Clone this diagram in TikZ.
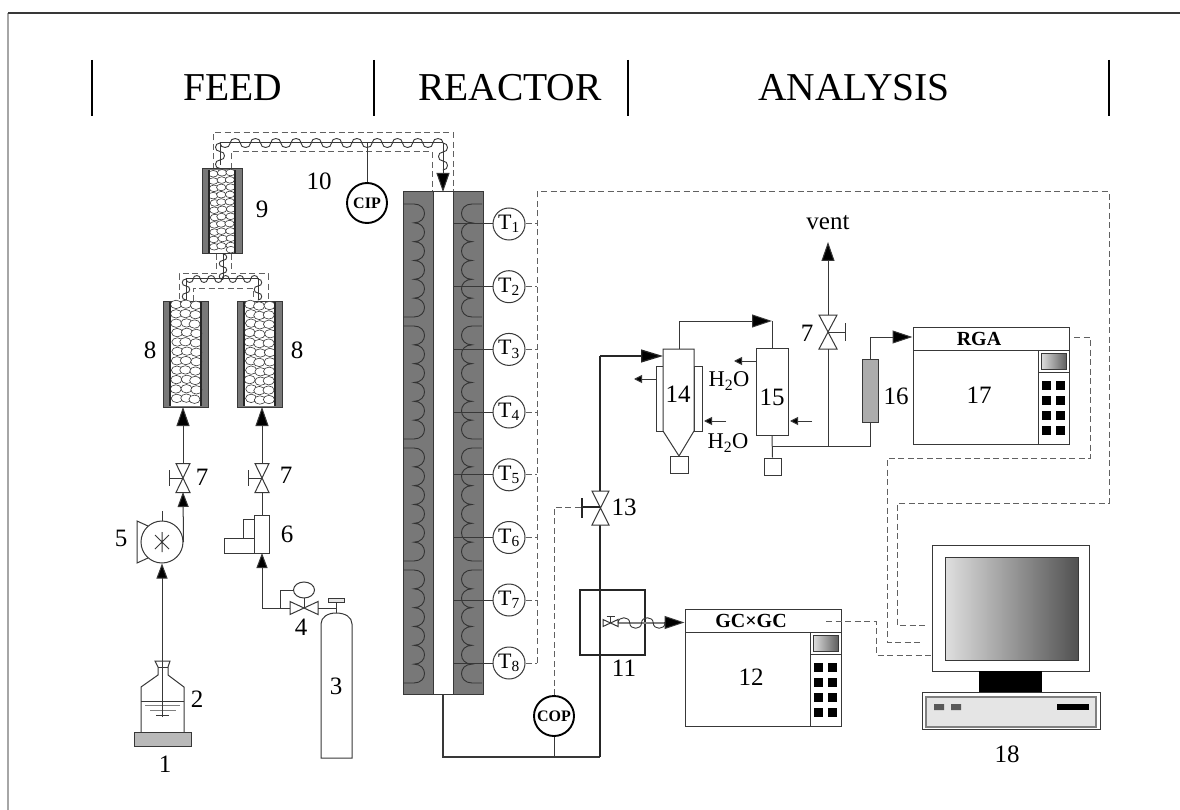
\documentclass[tikz,border=0pt]{standalone}
\usepackage{fontspec}
\setmainfont{Liberation Serif}
\usetikzlibrary{arrows.meta,calc}
\definecolor{ln}{gray}{0.22}
\definecolor{heat}{gray}{0.47}
\definecolor{dsh}{gray}{0.38}
\tikzset{
  pipe/.style={draw=ln,line width=1pt},
  hvy/.style={draw=black!85,line width=1.25pt},
  dsh/.style={draw=dsh,line width=1pt,dash pattern=on 6pt off 3.5pt},
  bigarrow/.style={pipe,-{Triangle[length=19pt,width=13pt,fill=black]}},
  midarrow/.style={pipe,-{Triangle[length=15pt,width=11pt,fill=black]}},
  tinyarrow/.style={pipe,-{Triangle[length=8pt,width=8pt,fill=black]}},
  lab/.style={font=\fontsize{25}{28}\selectfont,inner sep=0pt},
  title/.style={font=\fontsize{39.5}{44}\selectfont,inner sep=0pt},
  boxn/.style={pipe,rectangle,inner sep=0pt},
  tcirc/.style={draw=ln,line width=1pt,circle,fill=white,minimum size=32pt,inner sep=0pt,font=\fontsize{22}{24}\selectfont},
  pcirc/.style={draw=black,line width=1.9pt,circle,fill=white,minimum size=40pt,inner sep=0pt,font=\fontsize{16}{18}\selectfont\bfseries},
  pellet/.style={draw=ln,line width=.6pt,fill=white},
  wv/.style={draw=ln,line width=.9pt,line cap=round},
}
% sinuous tube: start x,y; half-wave step sx,sy; control offset nx,ny; number of half waves
\newcommand{\wavy}[7]{\foreach \i in {1,...,#7}{
  \pgfmathsetmacro{\sg}{ifthenelse(mod(\i,2)==0,-1,1)}
  \pgfmathsetmacro{\ax}{#1+(\i-1)*(#3)}
  \pgfmathsetmacro{\ay}{#2+(\i-1)*(#4)}
  \draw[wv] (\ax,\ay) .. controls ({\ax+\sg*(#5)},{\ay+\sg*(#6)}) and ({\ax+#3+\sg*(#5)},{\ay+#4+\sg*(#6)}) .. ({\ax+#3},{\ay+#4});
}}
% vertical bow-tie valve: centre, half width, half height
\newcommand{\vvalve}[4]{\draw[pipe,fill=white] (#1-#3,#2-#4) -- (#1+#3,#2-#4) -- (#1-#3,#2+#4) -- (#1+#3,#2+#4) -- cycle;}
\newcommand{\hvalve}[4]{\draw[pipe,fill=white] (#1-#3,#2-#4) -- (#1+#3,#2+#4) -- (#1+#3,#2-#4) -- (#1-#3,#2+#4) -- cycle;}
% heater coil: edge x, cusp x, bulge x, start y
\newcommand{\coil}[4]{\draw[draw=black!80,line width=.9pt] (#1,#4) -- (#2,#4)
  \foreach \i in {0,...,5}{ .. controls (#3,{#4+\i*18.83}) and (#3,{#4+(\i+1)*18.83}) .. (#2,{#4+(\i+1)*18.83})} -- (#1,#4+113);}
% packed bed: left, right, top, bottom of the bed, 3 column xs, rx, ry, offset, step
\newcommand{\pellets}[9]{\fill[white] (#1,#3) rectangle (#2,#4);
  \foreach \cx in {#5}{
    \pgfmathsetmacro{\ys}{#3+#8+rnd*2}
    \pgfmathsetmacro{\yn}{\ys+#9}
    \foreach \yy in {\ys,\yn,...,#4}{
      \pgfmathsetmacro{\py}{min(\yy,#4-#7)}
      \pgfmathsetmacro{\px}{\cx+(rnd-.5)*2}
      \draw[pellet] (\px,\py) ellipse[x radius=#6,y radius=#7];
    }}
  \draw[draw=black!85,line width=1.2pt] (#1,#3) -- (#1,#4) (#2,#3) -- (#2,#4);}
% analyser: name, left, top, heading, number
\newcommand{\analyser}[5]{
  \node[boxn,fill=white,minimum width=156pt,minimum height=117pt] (#1) at (#2+78,#3+58.5) {};
  \draw[pipe] (#2,#3+23) -- (#2+156,#3+23) (#2+125,#3+23) -- (#2+125,#3+117) (#2+125,#3+45) -- (#2+156,#3+45);
  \shade[draw=ln,left color=gray!25,right color=gray!75!black] (#2+128,#3+26) rectangle (#2+153,#3+42);
  \foreach \bx in {129,143}{\foreach \by in {54,69,84,99}{\fill[black] (#2+\bx,#3+\by) rectangle +(9,9);}}
  \node[font=\fontsize{20}{22}\selectfont\bfseries,inner sep=0pt] (#1h) at (#2+66,#3+11.5) {#4};
  \node[lab] (#1n) at (#2+66,#3+68) {#5};
}
\begin{document}
\begin{tikzpicture}[x=1pt,y=-1pt]
\useasboundingbox (0,0) rectangle (1180,810);
\fill[white] (0,0) rectangle (1180,810);
% frame
\draw[draw=gray!70,line width=1.2pt] (8,13) -- (8,810);
\draw[draw=ln,line width=1.2pt] (8,13) -- (1180,13);
% section heads
\foreach \x in {92,374,628,1109}{\draw[draw=black,line width=1.3pt] (\x,60) -- (\x,116);}
\node[title] (hfeed) at (233,88) {FEED};
\node[title] (hreac) at (510,88) {REACTOR};
\node[title] (hana)  at (854,88) {ANALYSIS};

% ===== heated tube 10 and manifolds
\draw[pipe] (220,165) -- (220,143) -- (443,143);
\wavy{220}{143}{10.14}{0}{0}{6}{22}
\wavy{220}{143}{0}{8.5}{-6}{0}{3}
\wavy{443}{143}{0}{9}{6}{0}{3}
\draw[dsh] (213,169) -- (213,133) -- (453,133) -- (453,192);
\draw[dsh] (231,169) -- (231,152) -- (432,152) -- (432,192);
\node[pcirc] (cip) at (367,203) {CIP};
\coordinate (cipt) at (367,143);
\draw[pipe] (cipt) -- (cip.north);

% column 9
\fill[heat] (202,169) rectangle (242,254);
\draw[pipe] (202,169) rectangle (242,254);
\pgfmathsetseed{7}
\pellets{209}{235}{170}{253}{214,222,230}{4.7}{3.3}{2}{7.3}
% columns 8
\fill[heat] (163,301) rectangle (208,407);
\draw[pipe] (163,301) rectangle (208,407);
\pellets{170}{201}{302}{406}{176.5,186,195.5}{5.6}{4.2}{2}{9.4}
\fill[heat] (237,301) rectangle (282,407);
\draw[pipe] (237,301) rectangle (282,407);
\pellets{244}{275}{302}{406}{250.5,260,269.5}{5.6}{4.2}{2}{9.4}
\coordinate (c8a) at (183,407);
\coordinate (c8b) at (262,407);
\coordinate (c9) at (223,254);

% manifold
\draw[pipe] (c9) -- (223,279);
\draw[pipe] (186,300) -- (186,279) -- (258,279) -- (258,300);
\wavy{223}{254}{0}{6.4}{5}{0}{4}
\wavy{186}{279}{7.2}{0}{0}{4.6}{10}
\wavy{186}{279}{0}{7}{-5}{0}{3}
\wavy{258}{279}{0}{7}{5}{0}{3}
\draw[dsh] (216,254) -- (216,274) -- (179,274) -- (179,301);
\draw[dsh] (231,254) -- (231,274) -- (268,274) -- (268,301);
\draw[dsh] (193,301) -- (193,288) -- (253,288) -- (253,301);

% ===== reactor
\fill[heat] (403,192) rectangle (433,694);
\fill[heat] (453,192) rectangle (483,694);
\draw[pipe] (403,192) rectangle (483,694);
\draw[pipe] (433,192) -- (433,694) (453,192) -- (453,694);
\foreach \k in {0,1,2,3}{
  \coil{403}{414}{428}{204+122*\k}
  \coil{482}{472}{458}{204+122*\k}
}
\coordinate (rtop) at (443,192);
\coordinate (rbot) at (443,694);
\coordinate (tinA) at (443,143);
\draw[bigarrow] (tinA) -- (rtop);

% thermocouples
\coordinate (bus0) at (537,192);
\coordinate (bus8) at (537,663);
\foreach \i/\yy in {1/224,2/286.7,3/349.4,4/412,5/474.8,6/537.5,7/600,8/663}{
  \node[tcirc] (T\i) at (509,\yy) {T\textsubscript{\i}};
  \coordinate (W\i) at (453,\yy);
  \coordinate (B\i) at (537,\yy);
  \draw[pipe] (T\i.west) -- (W\i);
  \draw[dsh] (T\i.east) -- (B\i);
}
\draw[dsh] (bus8) -- (bus0) -- (1109,192) -- (1109,503) -- (897,503) -- (897,625) -- (928,625);

% ===== feed: bottle, pump
\fill[gray!55,draw=ln,line width=.9pt] (134,732) rectangle (191,746);
\coordinate (bot) at (162,717);
\draw[pipe] (141,732) -- (141,687) -- (158,675) -- (158,667) -- (155,661) -- (170,661) -- (168,667) -- (168,675) -- (184,687) -- (184,732);
\draw[pipe] (158,667) -- (168,667) (141,701) -- (184,701);
\draw[pipe,draw=gray] (145,705) -- (180,705) (150,710) -- (176,710);
\draw[pipe] (156,715) -- (169,715);
\node[draw=ln,line width=1pt,circle,fill=white,minimum size=42pt,inner sep=0pt] (pump) at (162,542) {};
\draw[pipe] (148,526) -- (137,521) -- (137,563) -- (148,558);
\draw[pipe] (162,532) -- (162,552) (155,535) -- (169,549) (155,549) -- (169,535);
\draw[pipe] (pump.north) -- (162,511);
\draw[midarrow] (bot) -- (pump.south);
\vvalve{183}{478}{7}{14.5}
\coordinate (v7a) at (183,463);
\coordinate (v7ab) at (183,492);
\draw[bigarrow] (v7a) -- (c8a);
\draw[pipe] (183,478) -- (169,478);
\draw[pipe] (169,470) -- (169,486);
\draw[midarrow] (pump.east) -- (v7ab);

% gas line
\node[boxn,fill=white,minimum width=15pt,minimum height=38pt] (mfc) at (261.5,534) {};
\draw[pipe] (243,538) -- (243,519) -- (254,519);
\draw[pipe] (254,538) -- (224,538) -- (224,553) -- (254,553);
\vvalve{262}{478}{7}{14.5}
\coordinate (v7b) at (262,463);
\coordinate (v7bb) at (262,492);
\draw[bigarrow] (v7b) -- (c8b);
\draw[pipe] (262,478) -- (248,478);
\draw[pipe] (248,470) -- (248,486);
\draw[pipe] (v7bb) -- (mfc.north -| v7bb);
\hvalve{304}{608}{14}{6.5}
\draw[pipe] (304,608) -- (304,598);
\draw[pipe,fill=white] (304,590) ellipse[x radius=10.5,y radius=8];
\draw[pipe] (280,608) -- (280,590) -- (294,590);
\draw[midarrow] (290,608) -- (262,608) -- (262,553);
\draw[pipe] (318,608) -- (336,608);
\draw[pipe] (336,613) -- (336,600);
\draw[pipe,fill=gray!20] (328,598) rectangle (344,602);
\draw[pipe,fill=white] (321,758) -- (321,624) .. controls (321,617) and (328,613) .. (336,613) .. controls (345,613) and (352,617) .. (352,624) -- (352,758) -- cycle;

% ===== outlet
\node[pcirc] (cop) at (554,716) {COP};
\coordinate (pj) at (554,757);
\draw[draw=ln,line width=1.2pt] (rbot) -- (443,757) -- (600,757);
\draw[pipe] (cop.south) -- (pj);
\draw[hvy] (600,757) -- (600,525);
\vvalve{600.5}{508}{8.5}{17}
\draw[hvy] (600,491) -- (600,356);
\draw[hvy,-{Triangle[length=22pt,width=13pt,fill=black]}] (600,356) -- (663,356);
\draw[dsh] (cop.north) -- (554,507) -- (582,507);
\draw[hvy] (582,507) -- (600,507);
\draw[hvy] (582,498) -- (582,518);
% oven 11
\node[hvy,rectangle,inner sep=0pt,minimum width=65pt,minimum height=65pt] (ov) at (612.5,622.5) {};
\draw[draw=gray,line width=1.2pt] (618,623) -- (665,623);
\hvalve{610.5}{623}{7.5}{3.5}
\draw[pipe] (610.5,623) -- (610.5,616) (606.5,616) -- (614.5,616);
\wavy{618}{623}{11.75}{0}{0}{-7}{4}
% analysers
\analyser{gc}{685}{609}{GC×GC}{12}
\analyser{rga}{913}{327}{RGA}{17}
\draw[-{Triangle[length=20pt,width=13pt,fill=black]},draw=ln,line width=1pt] (664,622.5) -- (gc.west |- ov);

% condensers
\draw[pipe,fill=white] (656,366) rectangle (663,431);
\draw[pipe,fill=white] (694,366) rectangle (702,431);
\draw[pipe,fill=white] (663,349) -- (694,349) -- (694,431) -- (679,456) -- (663,431) -- cycle;
\node[boxn,minimum width=18pt,minimum height=17pt] (s14) at (679,465) {};
\node[boxn,fill=white,minimum width=32pt,minimum height=87pt] (c15) at (772,391.5) {};
\node[boxn,minimum width=17pt,minimum height=17pt] (s15) at (772.5,466.5) {};
\coordinate (j15) at (772,446);
\coordinate (jv) at (828,446);
\draw[pipe] (c15.south) -- (s15.north);
\draw[pipe] (j15) -- (870,446) -- (870,422);
\coordinate (t14) at (679,349);
\draw[pipe] (t14) -- (679,321);
\draw[pipe,-{Triangle[length=20pt,width=13pt,fill=black]}] (679,321) -- (772,321);
\draw[pipe] (772,321) -- (c15.north);
\draw[tinyarrow] (656,379) -- (634,379);
\draw[tinyarrow] (726,421) -- (704,421);
\draw[tinyarrow] (756,361) -- (734,361);
\draw[tinyarrow] (812,421) -- (790,421);
% vent
\vvalve{828}{332}{9}{17}
\draw[pipe] (jv) -- (828,349);
\coordinate (ventend) at (828,242);
\draw[bigarrow] (828,315) -- (ventend);
\draw[pipe] (828,332) -- (845,332) (845,323) -- (845,341);
% filter 16
\node[rectangle,draw=ln,line width=1pt,fill=gray!65,inner sep=0pt,minimum width=16pt,minimum height=63pt] (f16) at (870,390.5) {};
\coordinate (y337) at (870,337);
\draw[pipe,-{Triangle[length=20pt,width=13pt,fill=black]}] (f16.north) -- (y337) -- (rga.west |- y337);

% computer
\draw[pipe,fill=white] (932,545) rectangle (1089,671);
\shade[draw=ln,line width=1pt,left color=gray!25,right color=black!68] (945,557) rectangle (1078,660);
\fill[black] (979,671) rectangle (1042,692);
\draw[pipe,fill=white] (922,692) rectangle (1100,729);
\draw[draw=gray,line width=1.2pt,fill=gray!20] (926,697) rectangle (1096,727);
\fill[black!65] (934,704) rectangle (944,710) (951,704) rectangle (961,710);
\fill[black] (1057,704) rectangle (1089,710);
\coordinate (pc1) at (932,655);
% data lines
\draw[dsh] (826,621) -- (876,621) -- (876,655) -- (pc1);
\draw[dsh] (1074,337) -- (1090,337) -- (1090,458) -- (887,458) -- (887,642) -- (923,642);

% labels
\node[lab] (n1) at (165,764) {1};
\node[lab] (n2) at (197,699) {2};
\node[lab] (n3) at (336,686) {3};
\node[lab] (n4) at (301,627) {4};
\node[lab] (n5) at (121,538) {5};
\node[lab] (n6) at (287,534) {6};
\node[lab] (n7a) at (202,477) {7};
\node[lab] (n7b) at (286,475) {7};
\node[lab] (n7c) at (807,333) {7};
\node[lab] (n8a) at (150,350) {8};
\node[lab] (n8b) at (297,350) {8};
\node[lab] (n9) at (262,209) {9};
\node[lab] (n10) at (319,181) {10};
\node[lab] (n11) at (624,668) {11};
\node[lab] (n13) at (624,507) {13};
\node[lab] (n14) at (678,394) {14};
\node[lab] (n15) at (772,397) {15};
\node[lab] (n16) at (896,396) {16};
\node[lab] (n18) at (1007,754) {18};
\node[lab] (vent) at (828,223) {vent};
\node[lab,font=\fontsize{22.5}{25}\selectfont] (w1) at (729,381) {H\textsubscript{2}O};
\node[lab,font=\fontsize{22.5}{25}\selectfont] (w2) at (728,443) {H\textsubscript{2}O};
\end{tikzpicture}
\end{document}
